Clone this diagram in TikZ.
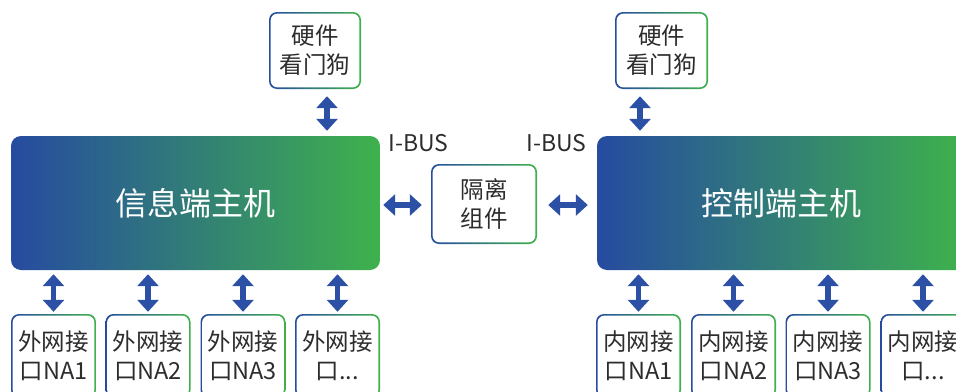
\documentclass[tikz,border=0pt]{standalone}
\usepackage{fontspec}
\setmainfont{Noto Sans CJK SC}
\usetikzlibrary{arrows.meta}
\definecolor{hblue}{RGB}{38,75,160}
\definecolor{hgreen}{RGB}{62,178,76}
\definecolor{arrowblue}{RGB}{43,80,165}
\definecolor{txt}{RGB}{45,45,45}
\begin{document}
\begin{tikzpicture}[x=1pt,y=-1pt,
 hostbox/.style={rectangle,rounded corners=10pt,left color=hblue,right color=hgreen,
   minimum width=369pt,minimum height=134pt,inner sep=0pt,text=white,
   font=\fontsize{32}{38}\selectfont},
 smallbox/.style={rectangle,rounded corners=8pt,inner sep=0pt,align=center,text=txt,
   font=\fontsize{23.5}{29}\selectfont,
   path picture={\shade[left color=hblue,right color=hgreen]
       (path picture bounding box.south west) rectangle (path picture bounding box.north east);
     \fill[white,rounded corners=7pt]
       ([shift={(1.6pt,1.6pt)}]path picture bounding box.south west) rectangle
       ([shift={(-1.6pt,-1.6pt)}]path picture bounding box.north east);}},
 portbox/.style={smallbox,minimum width=85pt,minimum height=84pt},
 biarrow/.style={draw=arrowblue,line width=5.5pt,
   {Triangle[width=21pt,length=12pt]}-{Triangle[width=21pt,length=12pt]}},
 buslabel/.style={text=txt,font=\fontsize{23}{27}\selectfont,inner sep=0pt}
]
\useasboundingbox (0,0) rectangle (956,391);
\clip (0,0) rectangle (956,391);

% watchdogs
\node[smallbox,minimum width=92pt,minimum height=77pt] (wdL) at (315,50.5) {硬件\\看门狗};
\node[smallbox,minimum width=93pt,minimum height=77pt] (wdR) at (661.5,50.5) {硬件\\看门狗};

% hosts
\node[hostbox] (hostL) at (195.5,203) {信息端主机};
\node[hostbox] (hostR) at (781.5,203) {控制端主机};

% isolation
\node[smallbox,minimum width=106pt,minimum height=80pt] (iso) at (484,204) {隔离\\组件};

% I-BUS labels
\node[buslabel] (busL) at (418.5,143) {I-BUS};
\node[buslabel] (busR) at (556.5,143) {I-BUS};

% ports
\node[portbox] (na1) at (53.5,356) {外网接\\口NA1};
\node[portbox] (na2) at (148,356) {外网接\\口NA2};
\node[portbox] (na3) at (243,356) {外网接\\口NA3};
\node[portbox] (na4) at (337.5,356) {外网接\\口...};
\node[portbox] (nb1) at (638.5,356) {内网接\\口NA1};
\node[portbox] (nb2) at (733.5,356) {内网接\\口NA2};
\node[portbox] (nb3) at (828,356) {内网接\\口NA3};
\node[portbox] (nb4) at (923,356) {内网接\\口...};

% arrows
\draw[biarrow,shorten <=7pt,shorten >=5pt] ([xshift=12pt]wdL.south) -- ([xshift=12pt]wdL.south |- hostL.north);
\draw[biarrow,shorten <=7pt,shorten >=5pt] ([xshift=-21.5pt]wdR.south) -- ([xshift=-21.5pt]wdR.south |- hostR.north);

\draw[biarrow,shorten <=3pt,shorten >=9pt] ([yshift=-2pt]hostL.east) -- ([yshift=-2pt]hostL.east -| iso.west);
\draw[biarrow,shorten <=11pt,shorten >=9pt] ([yshift=-2pt]hostL.east -| iso.east) -- ([yshift=-2pt]hostL.east -| hostR.west);

\foreach \n in {na1,na2,na3,na4}{
  \draw[biarrow,shorten <=4pt,shorten >=2pt] (\n.north |- hostL.south) -- (\n.north);
}
\foreach \n in {nb1,nb2,nb3,nb4}{
  \draw[biarrow,shorten <=4pt,shorten >=2pt] (\n.north |- hostR.south) -- (\n.north);
}
\end{tikzpicture}
\end{document}
